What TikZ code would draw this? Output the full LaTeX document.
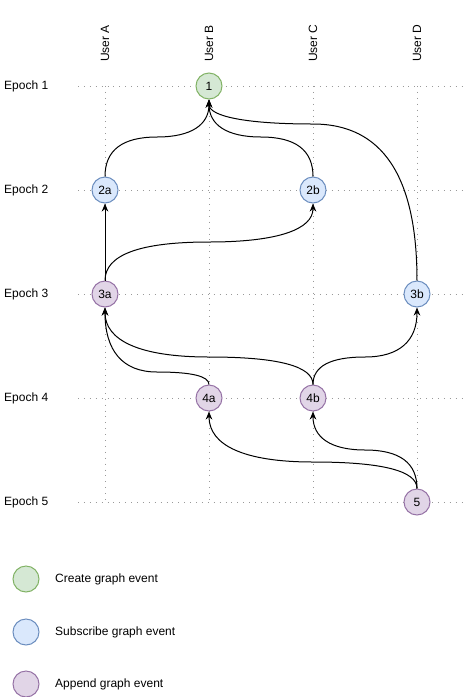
\documentclass[tikz,border=0pt]{standalone}
\usepackage{fontspec}
\setmainfont{Liberation Sans}
\usetikzlibrary{arrows.meta,calc}
\definecolor{gfill}{HTML}{D5E8D4}\definecolor{gline}{HTML}{82B366}
\definecolor{bfill}{HTML}{DAE8FC}\definecolor{bline}{HTML}{6C8EBF}
\definecolor{pfill}{HTML}{E1D5E7}\definecolor{pline}{HTML}{9673A6}
\definecolor{gridc}{HTML}{999999}
\tikzset{
  lbl/.style={inner sep=0pt, font=\fontsize{12}{14}\selectfont},
  ev/.style={circle, minimum size=26pt, inner sep=0pt, line width=1pt, font=\fontsize{12}{14}\selectfont},
  cg/.style={ev, draw=gline, fill=gfill},
  sg/.style={ev, draw=bline, fill=bfill},
  ag/.style={ev, draw=pline, fill=pfill},
  gridline/.style={draw=gridc, line width=0.9pt, dash pattern=on 0.9pt off 5pt},
  edge/.style={draw=black, line width=1pt, -{Stealth[length=8pt,width=6.5pt,inset=2.5pt]}},
  orth/.style={to path={let \p1=(\tikztostart), \p2=(\tikztotarget) in
     .. controls (\x1,{\y1+(-#1pt-\y1)*2/3}) and ({(\x1+\x2)/2+(\x1-\x2)/3},-#1pt) .. ({(\x1+\x2)/2},-#1pt)
     .. controls ({(\x1+\x2)/2+(\x2-\x1)/3},-#1pt) and (\x2,{\y2+(-#1pt-\y2)*2/3}) .. (\x2,\y2)}}
}
\begin{document}
\begin{tikzpicture}[x=1pt,y=-1pt]
\useasboundingbox (0,0) rectangle (471,697);
% grid
\foreach \yy in {86,190,294,398,502} \draw[gridline] (78,\yy) -- (466,\yy);
\foreach \xx in {105,209,313,417} \draw[gridline] (\xx,86) -- (\xx,502);
% labels
\node[lbl, anchor=west] (ep1) at (4,86) {Epoch 1};
\node[lbl, anchor=west] (ep2) at (4,190) {Epoch 2};
\node[lbl, anchor=west] (ep3) at (4,294) {Epoch 3};
\node[lbl, anchor=west] (ep4) at (4,398) {Epoch 4};
\node[lbl, anchor=west] (ep5) at (4,502) {Epoch 5};
\node[lbl, rotate=90, anchor=west] (ua) at (105,62) {User A};
\node[lbl, rotate=90, anchor=west] (ub) at (209,62) {User B};
\node[lbl, rotate=90, anchor=west] (uc) at (313,62) {User C};
\node[lbl, rotate=90, anchor=west] (ud) at (417,62) {User D};
% events
\node[cg] (n1) at (209,86) {1};
\node[sg] (n2a) at (105,190) {2a};
\node[sg] (n2b) at (313,190) {2b};
\node[ag] (n3a) at (105,294) {3a};
\node[sg] (n3b) at (417,294) {3b};
\node[ag] (n4a) at (209,398) {4a};
\node[ag] (n4b) at (313,398) {4b};
\node[ag] (n5) at (417,502) {5};
% edges
\draw[edge] (n2a.north) to[orth=137] (n1.south);
\draw[edge] (n2b.north) to[orth=137] (n1.south);
\draw[edge] (n3b.north) to[orth=124] (n1.south);
\draw[edge] (n3a.north) -- (n2a.south);
\draw[edge] (n3a.north) to[orth=242] (n2b.south);
\draw[edge] (n4a.north) to[orth=372] (n3a.south);
\draw[edge] (n4b.north) to[orth=357] (n3a.south);
\draw[edge] (n4b.north) to[orth=357] (n3b.south);
\draw[edge] (n5.north) to[orth=462] (n4a.south);
\draw[edge] (n5.north) to[orth=450] (n4b.south);
% legend
\node[cg] (lg1) at (26,579) {};
\node[sg] (lg2) at (26,632) {};
\node[ag] (lg3) at (26,684) {};
\node[lbl, anchor=west] (lt1) at (55,579) {Create graph event};
\node[lbl, anchor=west] (lt2) at (55,632) {Subscribe graph event};
\node[lbl, anchor=west] (lt3) at (55,684) {Append graph event};
\end{tikzpicture}
\end{document}
